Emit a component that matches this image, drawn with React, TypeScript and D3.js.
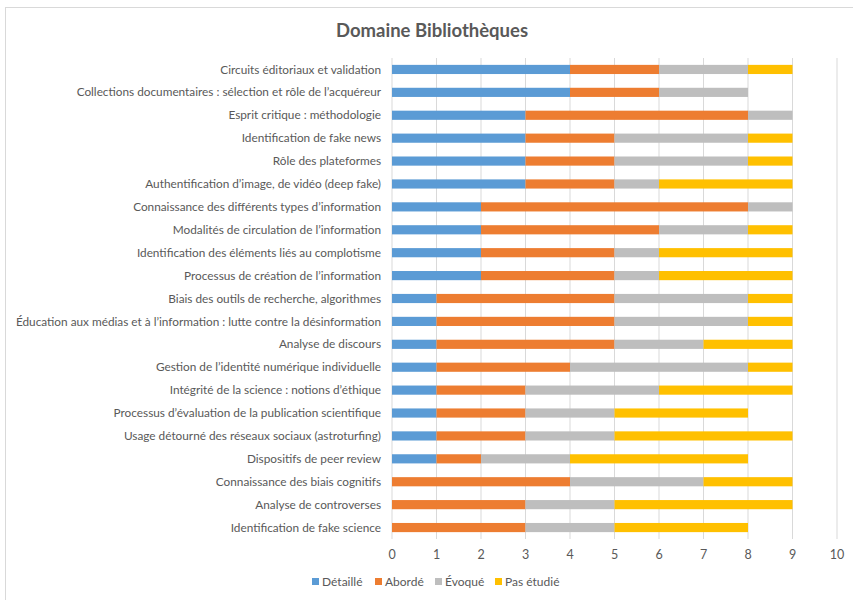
import React from 'react';
import * as d3 from 'd3';

const categories = [
    "Circuits éditoriaux et validation",
    "Collections documentaires : sélection et rôle de l’acquéreur",
    "Esprit critique : méthodologie",
    "Identification de fake news",
    "Rôle des plateformes",
    "Authentification d’image, de vidéo (deep fake)",
    "Connaissance des différents types d’information",
    "Modalités de circulation de l’information",
    "Identification des éléments liés au complotisme",
    "Processus de création de l’information",
    "Biais des outils de recherche, algorithmes",
    "Éducation aux médias et à l’information : lutte contre la désinformation",
    "Analyse de discours",
    "Gestion de l’identité numérique individuelle",
    "Intégrité de la science : notions d’éthique",
    "Processus d’évaluation de la publication scientifique",
    "Usage détourné des réseaux sociaux (astroturfing)",
    "Dispositifs de peer review",
    "Connaissance des biais cognitifs",
    "Analyse de controverses",
    "Identification de fake science",
];

const detaille = [4, 4, 3, 3, 3, 3, 2, 2, 2, 2, 1, 1, 1, 1, 1, 1, 1, 1, 0, 0, 0];
const aborde = [2, 2, 5, 2, 2, 2, 6, 4, 3, 3, 4, 4, 4, 3, 2, 2, 2, 1, 4, 3, 3];
const evoque = [2, 2, 1, 3, 3, 1, 1, 2, 1, 1, 3, 3, 2, 4, 3, 2, 2, 2, 3, 2, 2];
const pasEtudie = [1, 0, 0, 1, 1, 3, 0, 1, 3, 3, 1, 1, 2, 1, 3, 3, 4, 4, 2, 4, 3];

const seriesNames = ["Détaillé", "Abordé", "Évoqué", "Pas étudié"];
const seriesColors = ["#5B9BD5", "#ED7D31", "#BEBEBE", "#FFC000"];
const xTicks = [0, 1, 2, 3, 4, 5, 6, 7, 8, 9, 10];

const width = 853;
const height = 600;
const margin = { top: 58, right: 16, bottom: 61, left: 392 };
const font = "Lato, 'Open Sans', sans-serif";

const App: React.FC = () => {
    const rows = categories.map((c, i) => ({
        name: c,
        "Détaillé": detaille[i],
        "Abordé": aborde[i],
        "Évoqué": evoque[i],
        "Pas étudié": pasEtudie[i],
    }));
    const stacked = d3.stack<any>().keys(seriesNames)(rows);

    const x = d3.scaleLinear().domain([0, 10]).range([margin.left, width - margin.right]);
    const y = d3.scaleBand()
        .domain(categories)
        .range([margin.top, height - margin.bottom])
        .paddingInner(0.6)
        .paddingOuter(0.3);

    const legendX = [312, 375, 435, 495];

    return (
        <svg width={width} height={height} style={{ position: 'absolute', left: 0, top: 0, background: '#fff' }}>
            <rect x={5.5} y={7.5} width={900} height={700} fill="#fff" stroke="#d9d9d9" />
            <text x={432} y={37} textAnchor="middle" fontFamily={font} fontWeight="bold" fontSize={18.5} fill="#595959">
                Domaine Bibliothèques
            </text>

            {/* gridlines */}
            {xTicks.map(t => (
                <line key={t} x1={x(t)} x2={x(t)} y1={margin.top} y2={height - margin.bottom}
                    stroke="#d9d9d9" strokeWidth={1} />
            ))}

            {/* bars */}
            {stacked.map((s, si) => (
                <g key={s.key} fill={seriesColors[si]}>
                    {s.map((d, i) => (
                        d[1] - d[0] > 0 ? (
                            <rect key={i} x={x(d[0])} y={y(categories[i])}
                                width={x(d[1]) - x(d[0])} height={y.bandwidth()} />
                        ) : null
                    ))}
                </g>
            ))}

            {/* category labels */}
            {categories.map(c => (
                <text key={c} x={margin.left - 11} y={(y(c) || 0) + y.bandwidth() / 2} dy="0.35em"
                    textAnchor="end" fontFamily={font} fontSize={11.8} fill="#595959">
                    {c}
                </text>
            ))}

            {/* x tick labels */}
            {xTicks.map(t => (
                <text key={t} x={x(t)} y={559} textAnchor="middle" fontFamily={font} fontSize={12.5} fill="#595959">
                    {t}
                </text>
            ))}

            {/* legend */}
            {seriesNames.map((n, i) => (
                <g key={n} transform={`translate(${legendX[i]}, 582)`}>
                    <rect x={0} y={-4} width={7} height={7} fill={seriesColors[i]} />
                    <text x={10} y={0} dy="0.35em" fontFamily={font} fontSize={12} fill="#595959">{n}</text>
                </g>
            ))}
        </svg>
    );
};

export default App;
